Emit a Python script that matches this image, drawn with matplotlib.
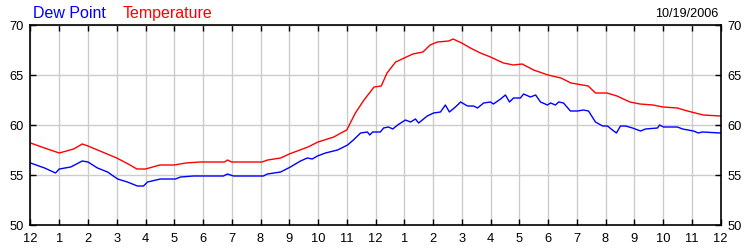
import matplotlib.pyplot as plt
import numpy as np

plt.rcParams['font.family'] = ['Liberation Sans', 'DejaVu Sans']

# hours since midnight, values in deg F
temp_hours = [0, 0.49, 1.0, 1.5, 1.8, 2.0, 2.5, 3.0, 3.4, 3.7, 4.0, 4.5, 5.0, 5.4,
              5.9, 6.75, 6.85, 7.0, 8.05, 8.25, 8.7, 9.0, 9.65, 10.0, 10.55, 10.8,
              11.0, 11.3, 11.6, 11.95, 12.2, 12.4, 12.7, 13.0, 13.3, 13.65, 13.9,
              14.15, 14.55, 14.7, 15.0, 15.3, 15.65, 16.0, 16.45, 16.8, 17.1, 17.5,
              18.0, 18.45, 18.8, 19.4, 19.65, 20.05, 20.4, 20.85, 21.2, 21.65, 22.0,
              22.5, 22.85, 23.4, 24.0]
temp = [58.2, 57.7, 57.2, 57.6, 58.1, 57.9, 57.3, 56.7, 56.1, 55.6, 55.6, 56.0, 56.0, 56.2,
        56.3, 56.3, 56.5, 56.3, 56.3, 56.5, 56.7, 57.1, 57.8, 58.3, 58.8, 59.2,
        59.5, 61.2, 62.5, 63.8, 63.9, 65.2, 66.3, 66.7, 67.1, 67.3, 68.0,
        68.3, 68.4, 68.6, 68.2, 67.7, 67.2, 66.8, 66.2, 66.0, 66.1, 65.5,
        65.0, 64.7, 64.2, 63.9, 63.2, 63.2, 62.9, 62.3, 62.1, 62.0, 61.8,
        61.7, 61.4, 61.0, 60.9]

dew_hours = [0, 0.49, 0.87, 1.0, 1.4, 1.8, 2.0, 2.33, 2.68, 3.03, 3.37, 3.72, 3.93, 4.07,
             4.52, 5.04, 5.22, 5.67, 6.71, 6.85, 7.06, 8.1, 8.24, 8.7, 9.04, 9.39, 9.63,
             9.8, 9.98, 10.26, 10.68, 11.03, 11.23, 11.48, 11.72, 11.8, 11.9, 12.17,
             12.28, 12.45, 12.6, 12.77, 13.04, 13.22, 13.39, 13.5, 13.8, 14.02, 14.26,
             14.43, 14.57, 14.78, 14.96, 15.2, 15.41, 15.55, 15.76, 16.0, 16.1, 16.35,
             16.52, 16.66, 16.8, 17.04, 17.15, 17.39, 17.57, 17.74, 17.98, 18.09, 18.26,
             18.37, 18.54, 18.78, 19.03, 19.23, 19.41, 19.65, 19.9, 20.07, 20.24, 20.38,
             20.52, 20.7, 20.94, 21.22, 21.39, 21.81, 21.88, 22.02, 22.5, 22.68, 23.06,
             23.23, 23.37, 24.0]
dew = [56.2, 55.7, 55.2, 55.6, 55.8, 56.4, 56.3, 55.7, 55.3, 54.6, 54.3, 53.9, 53.9, 54.3,
       54.6, 54.6, 54.8, 54.9, 54.9, 55.1, 54.9, 54.9, 55.1, 55.3, 55.8, 56.4, 56.7,
       56.6, 56.9, 57.2, 57.5, 58.0, 58.5, 59.2, 59.3, 59.0, 59.3, 59.3,
       59.7, 59.8, 59.6, 60.0, 60.5, 60.3, 60.6, 60.2, 60.9, 61.2, 61.3,
       62.0, 61.3, 61.8, 62.3, 61.9, 61.9, 61.7, 62.2, 62.3, 62.1, 62.6,
       63.0, 62.3, 62.7, 62.7, 63.1, 62.8, 63.0, 62.3, 62.0, 62.2, 62.0,
       62.3, 62.2, 61.4, 61.4, 61.5, 61.4, 60.3, 59.9, 59.9, 59.5, 59.2,
       59.9, 59.9, 59.7, 59.4, 59.6, 59.7, 60.0, 59.8, 59.8, 59.6, 59.4,
       59.2, 59.3, 59.2]

hour_labels = ['12', '1', '2', '3', '4', '5', '6', '7', '8', '9', '10', '11',
               '12', '1', '2', '3', '4', '5', '6', '7', '8', '9', '10', '11', '12']
y_ticks = [50, 55, 60, 65, 70]

fig = plt.figure(figsize=(7.5, 2.5), dpi=100)
ax = fig.add_axes([30.5 / 750, 25 / 250, 690 / 750, 200 / 250])

ax.plot(temp_hours, temp, color='#ff0000', lw=1)
ax.plot(dew_hours, dew, color='#0000ff', lw=1)

ax.set_xlim(0, 24)
ax.set_ylim(50, 70)
ax.set_xticks(np.arange(25))
ax.set_xticklabels(hour_labels)
ax.set_yticks(y_ticks)
ax.grid(True, color='#cccccc', lw=1)
ax.set_axisbelow(True)
ax.tick_params(direction='in', length=4, width=1, color='black', labelsize=9.3,
               top=True, right=True, labelright=True, pad=5)
ax.tick_params(axis='x', pad=6)
for s in ax.spines.values():
    s.set_linewidth(1.2)

fig.text(33 / 750, 1 - 18 / 250, 'Dew Point', color='#0000ff', fontsize=11.5)
fig.text(123 / 750, 1 - 18 / 250, 'Temperature', color='#ff0000', fontsize=11.5)
fig.text(718 / 750, 1 - 17 / 250, '10/19/2006', color='black', fontsize=9.1, ha='right')

fig.savefig('out.png', dpi=100)
